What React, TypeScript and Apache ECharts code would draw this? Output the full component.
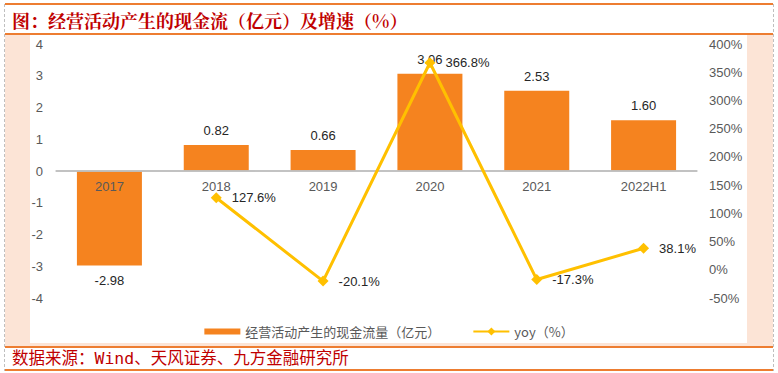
import React, { useEffect, useRef } from "react";
import * as echarts from "echarts";

const categories = ["2017", "2018", "2019", "2020", "2021", "2022H1"];
const cashFlow = [-2.98, 0.82, 0.66, 3.06, 2.53, 1.6];
const yoy: (number | null)[] = [null, 127.6, -20.1, 366.8, -17.3, 38.1];
const barName = "经营活动产生的现金流量（亿元）";
const lineName = "yoy（%）";
const titleText = "图：经营活动产生的现金流（亿元）及增速（%）";
const sourceText = "数据来源：Wind、天风证券、九方金融研究所";

export default function App() {
  const ref = useRef<HTMLDivElement>(null);
  useEffect(() => {
    if (!ref.current) return;
    const chart = echarts.init(ref.current, undefined, { renderer: "svg" });
    const orange = "#ED7D31";
    const pale = "#FCE4D6";
    const font = "'Liberation Sans', Arial, 'Noto Sans CJK SC', sans-serif";
    const gridTop = 44;
    const gridHeight = 254;
    chart.setOption({
      animation: false,
      backgroundColor: "#fff",
      textStyle: { fontFamily: font },
      grid: { left: 56, right: 81, top: gridTop, height: gridHeight },
      legend: {
        bottom: 30,
        left: "center",
        itemGap: 32,
        itemWidth: 36,
        itemHeight: 10,
        textStyle: { color: "#595959", fontSize: 13, fontFamily: "'Noto Sans CJK SC', sans-serif" },
        data: [
          { name: barName, icon: "path://M0,2h36v6h-36z" },
          { name: lineName },
        ],
      },
      xAxis: {
        type: "category",
        data: categories,
        position: "bottom",
        offset: -gridHeight / 2,
        axisLine: { show: true, onZero: false, lineStyle: { color: "#BFBFBF", width: 1.5 } },
        axisTick: { show: false },
        axisLabel: { color: "#595959", fontSize: 13, margin: 9 },
        z: 5,
      },
      yAxis: [
        {
          type: "value",
          min: -4,
          max: 4,
          interval: 1,
          splitLine: { show: false },
          axisLine: { show: false },
          axisTick: { show: false },
          axisLabel: { color: "#595959", fontSize: 13, margin: 13 },
        },
        {
          type: "value",
          min: -50,
          max: 400,
          interval: 50,
          splitLine: { show: false },
          axisLine: { show: false },
          axisTick: { show: false },
          axisLabel: { color: "#595959", fontSize: 13, margin: 12, formatter: "{value}%" },
        },
      ],
      series: [
        {
          name: barName,
          type: "bar",
          barWidth: 65,
          itemStyle: { color: "#F5831F" },
          data: cashFlow.map((v) => ({
            value: v,
            label: { position: v < 0 ? "bottom" : "top" },
          })),
          label: {
            show: true,
            color: "#262626",
            fontSize: 13,
            distance: 8,
            formatter: (p: any) => Number(p.value).toFixed(2),
          },
          markLine: {
            silent: true,
            symbol: "none",
            label: { show: false },
            lineStyle: { color: "#BFBFBF", type: "solid", width: 1.5, opacity: 1 },
            data: [{ yAxis: 0 }],
          },
          z: 1,
        },
        {
          name: lineName,
          type: "line",
          yAxisIndex: 1,
          data: yoy,
          connectNulls: false,
          symbol: "diamond",
          symbolSize: 11,
          lineStyle: { color: "#FFC000", width: 3 },
          itemStyle: { color: "#FFC000" },
          label: {
            show: true,
            position: "right",
            distance: 10,
            color: "#262626",
            fontSize: 13,
            formatter: (p: any) => Number(p.value).toFixed(1) + "%",
          },
          z: 6,
        },
      ],
      graphic: [
        { type: "rect", z: -10, shape: { x: 5, y: 35, width: 25, height: 311 }, style: { fill: pale } },
        { type: "rect", z: -10, shape: { x: 747, y: 35, width: 26, height: 311 }, style: { fill: pale } },
        { type: "rect", z: -10, shape: { x: 5, y: 343, width: 768, height: 3 }, style: { fill: pale } },
        { type: "line", shape: { x1: 5, y1: 4, x2: 773, y2: 4 }, style: { stroke: orange, lineWidth: 2 } },
        { type: "line", shape: { x1: 5, y1: 34, x2: 773, y2: 34 }, style: { stroke: orange, lineWidth: 2 } },
        { type: "line", shape: { x1: 5, y1: 347, x2: 773, y2: 347 }, style: { stroke: orange, lineWidth: 2 } },
        { type: "line", shape: { x1: 5, y1: 370, x2: 773, y2: 370 }, style: { stroke: orange, lineWidth: 2 } },
        { type: "line", shape: { x1: 4.5, y1: 4, x2: 4.5, y2: 371 }, style: { stroke: "#BFBFBF", lineWidth: 1, lineDash: [3, 2] } },
        { type: "line", shape: { x1: 773.5, y1: 4, x2: 773.5, y2: 371 }, style: { stroke: "#BFBFBF", lineWidth: 1, lineDash: [3, 2] } },
        {
          type: "text",
          x: 12,
          y: 20,
          style: {
            text: titleText,
            fill: "#C00000",
            font: "bold 18px 'Noto Serif CJK SC', 'Noto Sans CJK SC', serif",
            textVerticalAlign: "middle",
          },
        },
        {
          type: "text",
          x: 12,
          y: 358,
          style: {
            text: sourceText,
            fill: "#C00000",
            font: "16.5px 'DejaVu Sans Mono', 'Noto Sans CJK SC', monospace",
            textVerticalAlign: "middle",
          },
        },
      ],
    });
    return () => chart.dispose();
  }, []);
  return (
    <div
      ref={ref}
      style={{ position: "absolute", left: 0, top: 0, width: 778, height: 373 }}
    />
  );
}
